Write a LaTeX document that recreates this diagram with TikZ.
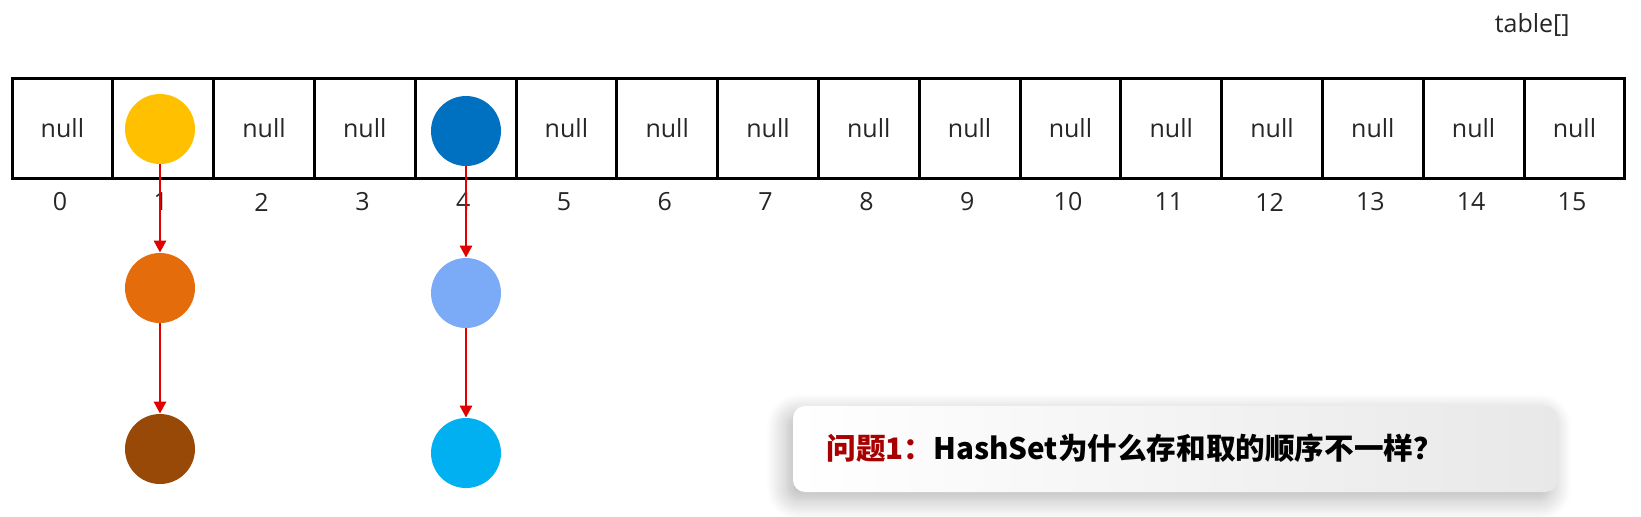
\documentclass[tikz,border=0pt]{standalone}
\usepackage{fontspec}
\setmainfont{Open Sans}
\newfontfamily\cjk{Noto Sans CJK SC}
\usetikzlibrary{arrows.meta,shadows.blur}

\definecolor{nodeyellow}{HTML}{FFC000}
\definecolor{nodeorange}{HTML}{E46C0A}
\definecolor{nodebrown}{HTML}{984807}
\definecolor{nodeblue}{HTML}{0070C0}
\definecolor{nodesky}{HTML}{7BAAF7}
\definecolor{nodecyan}{HTML}{00B0F0}
\definecolor{linkred}{HTML}{E00000}
\definecolor{askred}{HTML}{A80000}

\begin{document}
\begin{tikzpicture}[x=0.5pt,y=-0.5pt,
   cell/.style={draw,line width=1.5pt,minimum width=50.4pt,minimum height=50pt,
                inner sep=0pt,font=\fontsize{12.5}{15}\selectfont,text=black!85},
   idx/.style={inner sep=0pt,font=\fontsize{12.5}{15}\selectfont,text=black!85},
   entry/.style={circle,minimum size=35pt,inner sep=0pt},
   link/.style={color=linkred,line width=1.4pt,-{Triangle[length=6pt,width=6pt]}}]

   \useasboundingbox (0,0) rectangle (1641,516);

   % the table
   \foreach \i/\t in {0/null,1/,2/null,3/null,4/,5/null,6/null,7/null,
                      8/null,9/null,10/null,11/null,12/null,13/null,14/null,15/null}
   {
      \node[cell] (c\i) at ({62.4+100.8*\i},128.5) {\t};
      \node[idx] (n\i) at ({60+100.8*\i},202) {\i};
   }
   \node[idx,anchor=east] (tab) at (1570,25) {table[]};

   % the entries
   \node[entry,fill=nodeyellow] (e1) at (160,129) {};
   \node[entry,fill=nodeorange] (e1b) at (160,288) {};
   \node[entry,fill=nodebrown] (e1c) at (160,449) {};
   \node[entry,fill=nodeblue] (e4) at (466,131) {};
   \node[entry,fill=nodesky] (e4b) at (466,293) {};
   \node[entry,fill=nodecyan] (e4c) at (466,453) {};

   \draw[link] (e1) -- (e1b);
   \draw[link] (e1b) -- (e1c);
   \draw[link] (e4) -- (e4b);
   \draw[link] (e4b) -- (e4c);

   % the question
   \node[rounded corners=6pt,minimum width=382pt,minimum height=43pt,inner sep=0pt,
         left color=white,right color=black!9,
         blur shadow={shadow xshift=-3pt,shadow yshift=-4pt,shadow blur radius=10pt,
                      shadow blur steps=12,shadow opacity=30}]
         (ask) at (1175,449) {};
   \node[anchor=west,inner sep=0pt,font=\cjk\bfseries\fontsize{14.8}{17}\selectfont]
         (asktext) at (826,448) {\textcolor{askred}{问题1：}HashSet为什么存和取的顺序不一样？};

\end{tikzpicture}
\end{document}
